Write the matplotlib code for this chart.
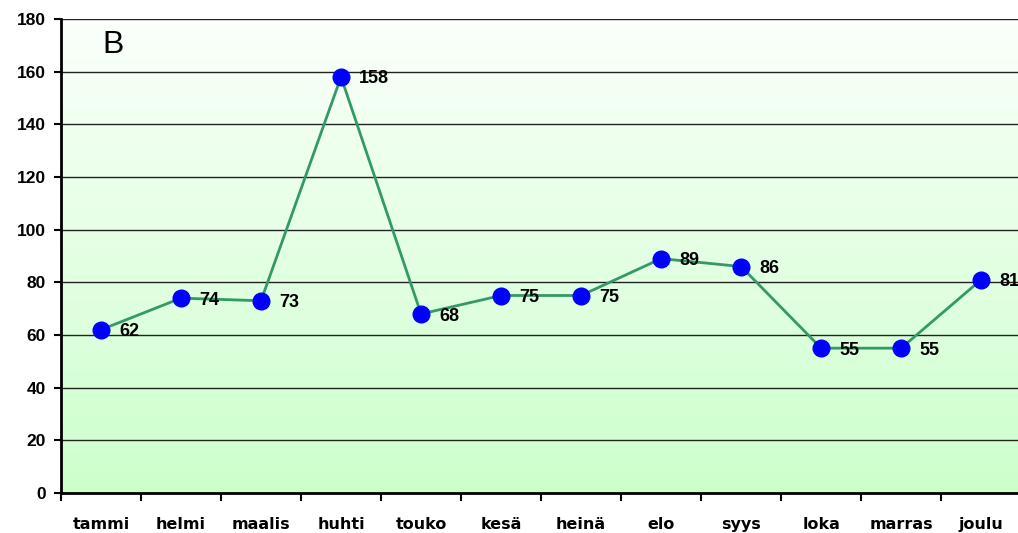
import numpy as np
import matplotlib
matplotlib.use("Agg")
import matplotlib.pyplot as plt
from matplotlib.colors import LinearSegmentedColormap

plt.rcParams.update({"font.family": ["Liberation Sans", "DejaVu Sans"]})

months = ["tammi", "helmi", "maalis", "huhti", "touko", "kesä",
          "heinä", "elo", "syys", "loka", "marras", "joulu"]
values = [62, 74, 73, 158, 68, 75, 75, 89, 86, 55, 55, 81]

fig = plt.figure(figsize=(10.18, 5.33), dpi=100)
ax = fig.add_axes([0.0599, 0.075, 0.9432, 0.8894])

n = len(months)
x = np.arange(n)
ax.set_xlim(-0.5, n - 0.5)
ax.set_ylim(0, 180)

# vertical gradient fill: near-white at top, pale green at the bottom
grad = LinearSegmentedColormap.from_list("g", ["#ccffcc", "#fbfffb"])
ax.imshow(np.linspace(0, 1, 256).reshape(-1, 1), cmap=grad, aspect="auto",
          extent=(-0.5, n - 0.5, 0, 180), origin="lower", zorder=0)

for yv in range(20, 181, 20):
    ax.axhline(yv, color="#222222", lw=1.0, zorder=1)

ax.plot(x, values, color="#339966", lw=2, zorder=2)
ax.plot(x, values, "o", color="#0000ff", ms=12, zorder=3)
for xi, v in zip(x, values):
    ax.annotate(str(v), (xi, v), xytext=(13, -1.5), textcoords="offset points",
                ha="left", va="center", fontsize=13, fontweight="bold",
                zorder=4, annotation_clip=False)

ax.text(0.15, 170, "B", fontsize=23, ha="center", va="center")

ax.set_yticks(range(0, 181, 20))
ax.set_yticklabels([str(v) for v in range(0, 181, 20)],
                   fontsize=12.5, fontweight="bold")
ax.tick_params(axis="y", length=5, width=1.5, direction="out", pad=6)

# category boundaries carry the tick marks, centres carry the names
ax.set_xticks(np.arange(-0.5, n, 1.0))
ax.set_xticklabels([])
ax.tick_params(axis="x", which="major", length=6, width=1.5, direction="out")
ax.set_xticks(x, minor=True)
ax.set_xticklabels(months, minor=True, fontsize=11.5, fontweight="bold",
                   family="DejaVu Sans")
ax.tick_params(axis="x", which="minor", length=0, pad=17)

for side in ("top", "right"):
    ax.spines[side].set_visible(False)
for side in ("left", "bottom"):
    ax.spines[side].set_linewidth(2)
    ax.spines[side].set_zorder(5)

fig.savefig("out.png", dpi=100)
